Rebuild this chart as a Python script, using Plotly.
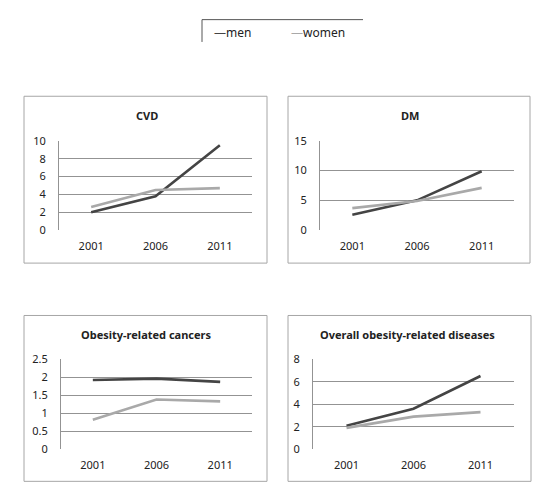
import plotly.graph_objects as go

W, H = 550, 499

years = ["2001", "2006", "2011"]
titles = ["CVD", "DM", "Obesity-related cancers", "Overall obesity-related diseases"]
men = [
    [2.0, 3.8, 9.5],
    [2.6, 5.0, 9.9],
    [1.92, 1.96, 1.87],
    [2.1, 3.6, 6.5],
]
women = [
    [2.6, 4.5, 4.7],
    [3.7, 4.9, 7.1],
    [0.82, 1.38, 1.33],
    [1.9, 2.9, 3.3],
]
y_ranges = [[0, 10], [0, 15], [0, 2.5], [0, 8]]
y_tickvals = [[0, 2, 4, 6, 8, 10], [0, 5, 10, 15], [0, 0.5, 1, 1.5, 2, 2.5], [0, 2, 4, 6, 8]]
y_ticktext = [["0", "2", "4", "6", "8", "10"], ["0", "5", "10", "15"],
              ["0", "0.5", "1", "1.5", "2", "2.5"], ["0", "2", "4", "6", "8"]]

MEN_COLOR = "#444444"
WOMEN_COLOR = "#a9a9a9"
GRID = "#939393"
BOX = "#a6a6a6"
FONT = "Noto Sans"

# pixel layout: plot areas and panel boxes
plot_px = [(59, 252, 137, 229), (320, 514, 137, 229), (61, 252, 362, 455), (313, 514, 362, 455)]
box_px = [(24, 267, 91, 263), (288, 530, 91, 263), (24, 267, 317, 488), (288, 531, 317, 488)]
title_px = [(147, 111), (410, 111), (146, 337), (407, 337)]


def px_x(x):
    return x / W


def px_y(y):
    return 1 - y / H


fig = go.Figure()
shapes = []
annotations = []

for i in range(4):
    xa = "x" if i == 0 else f"x{i+1}"
    ya = "y" if i == 0 else f"y{i+1}"
    fig.add_trace(go.Scatter(x=years, y=men[i], mode="lines", name="men",
                             line=dict(color=MEN_COLOR, width=2.6),
                             xaxis=xa, yaxis=ya, showlegend=False))
    fig.add_trace(go.Scatter(x=years, y=women[i], mode="lines", name="women",
                             line=dict(color=WOMEN_COLOR, width=2.6),
                             xaxis=xa, yaxis=ya, showlegend=False))
    x0, x1, y0, y1 = plot_px[i]
    xk = "xaxis" if i == 0 else f"xaxis{i+1}"
    yk = "yaxis" if i == 0 else f"yaxis{i+1}"
    fig.layout[xk] = dict(domain=[px_x(x0), px_x(x1)], anchor=ya, type="category",
                          range=[-0.5, 2.5], showgrid=False, showline=False,
                          ticks="", ticklabelstandoff=8,
                          tickfont=dict(family=FONT, size=11, color="#222"),
                          zeroline=False)
    fig.layout[yk] = dict(domain=[px_y(y1), px_y(y0)], anchor=xa, range=y_ranges[i],
                          tickvals=y_tickvals[i], ticktext=y_ticktext[i],
                          showgrid=True, gridcolor=GRID, gridwidth=1,
                          showline=True, linecolor=GRID, linewidth=1,
                          zeroline=False, ticks="",
                          ticklabelstandoff=10,
                          tickfont=dict(family=FONT, size=11, color="#222"))
    bx0, bx1, by0, by1 = box_px[i]
    shapes.append(dict(type="rect", xref="paper", yref="paper",
                       x0=px_x(bx0), x1=px_x(bx1), y0=px_y(by1), y1=px_y(by0),
                       line=dict(color=BOX, width=1), layer="below"))
    tx, ty = title_px[i]
    annotations.append(dict(text=f"<b>{titles[i]}</b>", x=px_x(tx), y=px_y(ty),
                            xref="paper", yref="paper", showarrow=False,
                            xanchor="center", yanchor="middle",
                            font=dict(family=FONT, size=11, color="#222")))

# legend frame (top and left edges)
shapes.append(dict(type="line", xref="paper", yref="paper",
                   x0=px_x(202), x1=px_x(363), y0=px_y(12), y1=px_y(12),
                   line=dict(color="#555", width=1)))
shapes.append(dict(type="line", xref="paper", yref="paper",
                   x0=px_x(202), x1=px_x(202), y0=px_y(12), y1=px_y(35),
                   line=dict(color="#555", width=1)))
annotations.append(dict(text=f"<span style='color:{MEN_COLOR}'>—</span>men",
                        x=px_x(212), y=px_y(25), xref="paper", yref="paper",
                        showarrow=False, xanchor="left", yanchor="middle",
                        font=dict(family=FONT, size=12, color="#222")))
annotations.append(dict(text=f"<span style='color:{WOMEN_COLOR}'>—</span>women",
                        x=px_x(289), y=px_y(25), xref="paper", yref="paper",
                        showarrow=False, xanchor="left", yanchor="middle",
                        font=dict(family=FONT, size=12, color="#222")))

fig.update_layout(width=W, height=H, margin=dict(l=0, r=0, t=0, b=0),
                  paper_bgcolor="white", plot_bgcolor="white",
                  shapes=shapes, annotations=annotations, showlegend=False)

fig.write_html("out.html", config={"displayModeBar": False},
               post_script="document.body.style.margin='0';")
